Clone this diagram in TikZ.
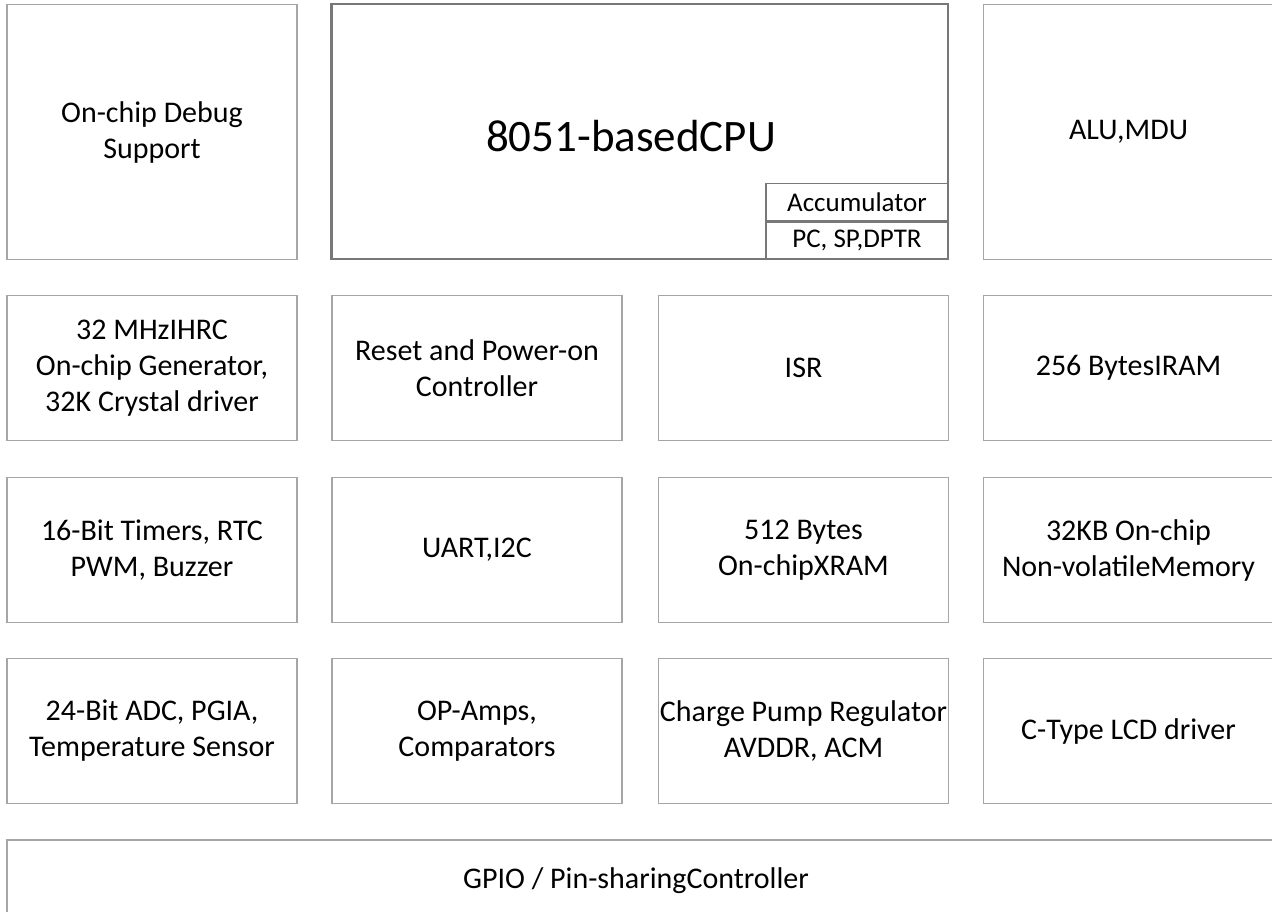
\documentclass[tikz,border=0pt]{standalone}
\usepackage{fontspec}
\setmainfont{Carlito}
\usetikzlibrary{positioning}
\definecolor{boxgray}{RGB}{166,166,166}
\definecolor{cpugray}{RGB}{120,120,120}
\tikzset{
  block/.style = {draw=boxgray, line width=1.3pt, align=center, inner sep=0pt,
    minimum width=290pt, minimum height=145pt, font=\fontsize{30}{36}\selectfont},
  topblock/.style = {block, minimum height=255pt},
  cpublock/.style = {draw=cpugray, line width=1.3pt, inner sep=0pt,
    minimum width=616pt, minimum height=255pt},
  regbox/.style = {draw=cpugray, line width=1.3pt, inner sep=0pt,
    minimum width=182pt, minimum height=37pt, font=\fontsize{27}{30}\selectfont}
}
\begin{document}
\begin{tikzpicture}[x=1pt,y=-1pt]
  \useasboundingbox (0,0) rectangle (1272,911);
  % top row
  \node [topblock] (debug) at (152,132) {On-chip Debug\\Support};
  \node [cpublock] (cpu) at (640,131.5) {};
  \draw [cpugray, line width=2pt] (cpu.north west) -- (cpu.south west);
  \node [font=\fontsize{45}{50}\selectfont] (cputitle) at (631,136) {8051-basedCPU};
  \node [regbox, anchor=south east] (pcreg) at (cpu.south east) {PC, SP,DPTR};
  \node [regbox, above=0pt of pcreg] (acc) {Accumulator};
  \node [topblock] (alu) at (1128.5,132) {ALU,MDU};
  % second row
  \node [block] (osc) at (152,368) {32 MHzIHRC\\On-chip Generator,\\32K Crystal driver};
  \node [block] (reset) at (477,368) {Reset and Power-on\\Controller};
  \node [block] (isr) at (803.5,368) {ISR};
  \node [block] (iram) at (1128.5,368) {256 BytesIRAM};
  % third row
  \node [block] (timers) at (152,550) {16-Bit Timers, RTC\\PWM, Buzzer};
  \node [block] (uart) at (477,550) {UART,I2C};
  \node [block] (xram) at (803.5,550) {512 Bytes\\On-chipXRAM};
  \node [block] (flash) at (1128.5,550) {32KB On-chip\\Non-volatileMemory};
  % fourth row
  \node [block] (adc) at (152,731) {24-Bit ADC, PGIA,\\Temperature Sensor};
  \node [block] (opamp) at (477,731) {OP-Amps,\\Comparators};
  \node [block] (pump) at (803.5,731) {Charge Pump Regulator\\AVDDR, ACM};
  \node [block] (lcd) at (1128.5,731) {C-Type LCD driver};
  % GPIO strip
  \draw [boxgray, line width=1.3pt] (7,840) rectangle (1290,940);
  \node [font=\fontsize{30}{36}\selectfont] (gpio) at (636,881) {GPIO / Pin-sharingController};
\end{tikzpicture}
\end{document}
